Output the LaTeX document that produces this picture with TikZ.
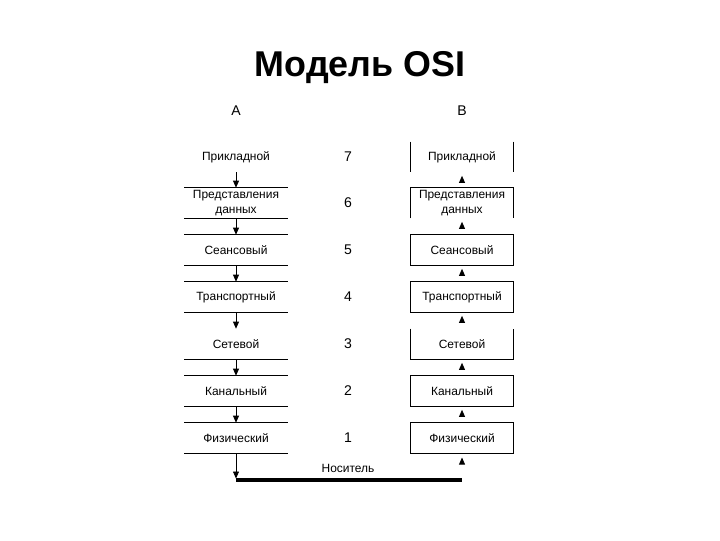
\documentclass[tikz,border=0pt]{standalone}
\usepackage{fontspec}
\setmainfont{Liberation Sans}
\usetikzlibrary{arrows.meta}
\tikzset{
	layer/.style={minimum width=2.575cm, minimum height=0.75cm, inner sep=0pt, align=center, font=\fontsize{8.5}{10.6}\selectfont},
	rule/.style={line width=0.6pt},
	down/.style={rule, -{Triangle[length=5pt,width=4.2pt]}},
	up/.style={rule, -{Triangle[length=5pt,width=4.2pt]}, shorten <=5pt, shorten >=2.5pt},
	num/.style={font=\fontsize{10}{12}\selectfont}
}
\begin{document}
\begin{tikzpicture}[x=0.025cm, y=-0.025cm]
		\useasboundingbox (0,0) rectangle (720,540);
		\def\xa{236};
		\def\xb{462};
		\def\xn{348};
		\node[font=\bfseries\fontsize{25.5}{30}\selectfont] (title) at (360,68) {Модель OSI};
		\node[num] (hA) at (\xa,111) {A};
		\node[num] (hB) at (\xb,111) {B};
		% layers, 7 at the top
		\foreach \n/\y/\t in {7/157/Прикладной, 6/203/{Представления\\данных}, 5/250/Сеансовый,
			4/297/Транспортный, 3/344/Сетевой, 2/391/Канальный, 1/438/Физический} {
			\node[layer] (a\n) at (\xa,\y) {\t};
			\node[layer] (b\n) at (\xb,\y) {\t};
			\node[num] (n\n) at (\xn,\y) {\n};
		}
		% system A: rules only
		\foreach \n in {6,4,2,1} {
			\draw[rule] (a\n.north west) -- (a\n.north east);
			\draw[rule] (a\n.south west) -- (a\n.south east);
		}
		\draw[rule] (a5.north west) -- (a5.north east);
		\draw[rule] (a5.south west) -- (a5.south east);
		\draw[rule] (a3.south west) -- (a3.south east);
		% system B: boxes
		\foreach \n in {5,4,2,1}
			\draw[rule] (b\n.north west) rectangle (b\n.south east);
		\draw[rule] (b7.north west) -- (b7.south west);
		\draw[rule] (b7.north east) -- (b7.south east);
		\draw[rule] (b6.south west) -- (b6.north west) -- (b6.north east) -- (b6.south east);
		\draw[rule] (b3.north west) -- (b3.south west) -- (b3.south east) -- (b3.north east);
		% data flow
		\foreach \n/\m in {7/6,6/5,5/4,4/3,3/2,2/1} {
			\draw[down] (a\n.south) -- (a\m.north);
			\draw[up] (b\m.north) -- (b\n.south);
		}
		% medium
		\coordinate (ma) at (\xa,480);
		\coordinate (mb) at (\xb,480);
		\draw[line width=2.2pt] (ma) -- (mb);
		\node[layer, minimum width=0pt, minimum height=0pt] (med) at (\xn,468) {Носитель};
		\draw[down, shorten >=1pt] (a1.south) -- (ma);
		\draw[up, shorten <=14pt, shorten >=3pt] (mb) -- (b1.south);
	\end{tikzpicture}
\end{document}
